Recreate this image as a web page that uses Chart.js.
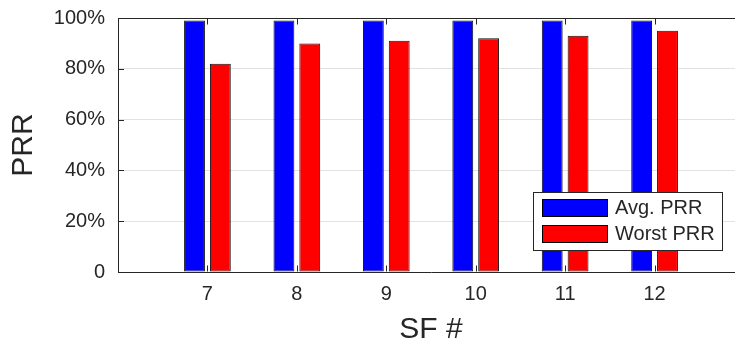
<!DOCTYPE html>
<html>
<head>
<meta charset="utf-8">
<script src="https://cdn.jsdelivr.net/npm/chart.js@4.4.1/dist/chart.umd.min.js"></script>
<style>
  html, body { margin: 0; padding: 0; background: #fff; overflow: hidden; }
  #wrap { width: 735px; height: 345px; overflow: hidden; position: relative; }
  canvas { display: block; }
</style>
</head>
<body>
<div id="wrap"><canvas id="c" width="760" height="345"></canvas></div>
<script>
// Packet reception ratio per spreading factor
const sfLabels = ['7', '8', '9', '10', '11', '12'];
const avgPRR = [99, 99, 99, 99, 99, 99];
const worstPRR = [82, 90, 91, 92, 93, 95];
const yTicks = [0, 20, 40, 60, 80, 100];
const seriesNames = ['Avg. PRR', 'Worst PRR'];
const seriesColors = ['#0000ff', '#ff0000'];

// an empty slot on each side of the SF values
const axisLabels = ['', ...sfLabels, ''];
const padded = arr => [null, ...arr, null];

const AXIS = '#262626';
const FONT = "'Liberation Sans', Arial, Helvetica, sans-serif";
const TICK_SIZE = 20;

// top border line plus inward tick marks
const frame = {
  id: 'frame',
  beforeDatasetsDraw(chart) {
    const { ctx, chartArea: a, scales: { x, y } } = chart;
    ctx.save();
    ctx.strokeStyle = AXIS;
    ctx.lineWidth = 1;
    ctx.beginPath();
    const top = Math.round(a.top) + 0.5;
    const bottom = Math.round(a.bottom) - 0.5;
    ctx.moveTo(a.left, top);
    ctx.lineTo(a.right, top);
    sfLabels.forEach(l => {
      const px = Math.round(x.getPixelForValue(axisLabels.indexOf(l))) + 0.5;
      ctx.moveTo(px, top);
      ctx.lineTo(px, top + 6);
      ctx.moveTo(px, bottom);
      ctx.lineTo(px, bottom - 6);
    });
    yTicks.forEach(v => {
      const py = Math.round(y.getPixelForValue(v)) + 0.5;
      ctx.moveTo(a.left, py);
      ctx.lineTo(a.left + 6, py);
    });
    ctx.stroke();
    ctx.restore();
  }
};

// boxed legend in the lower right corner of the plot
const boxLegend = {
  id: 'boxLegend',
  afterDatasetsDraw(chart) {
    const { ctx, chartArea: a } = chart;
    const w = 189, h = 58;
    const x0 = Math.round(a.right - 22 - w), y0 = Math.round(a.bottom - 22 - h);
    ctx.save();
    ctx.fillStyle = '#fff';
    ctx.fillRect(x0, y0, w, h);
    ctx.strokeStyle = AXIS;
    ctx.lineWidth = 1;
    ctx.strokeRect(x0 + 0.5, y0 + 0.5, w, h);
    ctx.font = TICK_SIZE + 'px ' + FONT;
    ctx.textBaseline = 'middle';
    ctx.textAlign = 'left';
    chart.data.datasets.forEach((ds, i) => {
      const ry = y0 + 7 + i * 26;
      ctx.fillStyle = ds.backgroundColor;
      ctx.fillRect(x0 + 9, ry, 66, 18);
      ctx.strokeStyle = '#000';
      ctx.strokeRect(x0 + 9.5, ry + 0.5, 65, 17);
      ctx.fillStyle = AXIS;
      ctx.fillText(ds.label, x0 + 82, ry + 9.5);
    });
    ctx.restore();
  }
};

new Chart(document.getElementById('c'), {
  type: 'bar',
  data: {
    labels: axisLabels,
    datasets: [
      {
        label: seriesNames[0],
        data: padded(avgPRR),
        backgroundColor: seriesColors[0],
        borderColor: '#111',
        borderWidth: 1,
        borderSkipped: false,
        categoryPercentage: 0.578,
        barPercentage: 0.807
      },
      {
        label: seriesNames[1],
        data: padded(worstPRR),
        backgroundColor: seriesColors[1],
        borderColor: '#111',
        borderWidth: 1,
        borderSkipped: false,
        categoryPercentage: 0.578,
        barPercentage: 0.807
      }
    ]
  },
  options: {
    responsive: false,
    animation: false,
    devicePixelRatio: 1,
    layout: { padding: { left: 0, right: 16, top: 18, bottom: 0 } },
    plugins: {
      legend: { display: false },
      tooltip: { enabled: false }
    },
    scales: {
      x: {
        offset: false,
        grid: { display: false, drawTicks: false },
        border: { display: true, color: AXIS, width: 1 },
        ticks: {
          color: AXIS,
          font: { family: FONT, size: TICK_SIZE },
          padding: 10,
          maxRotation: 0,
          autoSkip: false
        },
        title: {
          display: true,
          text: 'SF #',
          color: AXIS,
          font: { family: FONT, size: 30, lineHeight: 1 },
          padding: { top: 0, bottom: 0 }
        },
        afterFit(scale) {
          scale.height = 73;
          scale.paddingLeft = 0;
          scale.paddingRight = 0;
        }
      },
      y: {
        min: 0,
        max: 100,
        afterBuildTicks(scale) { scale.ticks = yTicks.map(v => ({ value: v })); },
        grid: { color: '#e2e2e2', lineWidth: 1, drawTicks: false },
        border: { display: true, color: AXIS, width: 1 },
        ticks: {
          color: AXIS,
          font: { family: FONT, size: TICK_SIZE },
          padding: 13,
          callback: v => (v === 0 ? '0' : v + '%')
        },
        title: {
          display: true,
          text: 'PRR',
          color: AXIS,
          font: { family: FONT, size: 30, lineHeight: 1 },
          padding: { top: 9, bottom: 0 }
        },
        afterFit(scale) {
          scale.width = 118;
          scale.paddingTop = 0;
          scale.paddingBottom = 0;
        }
      }
    }
  },
  plugins: [frame, boxLegend]
});
</script>
</body>
</html>
